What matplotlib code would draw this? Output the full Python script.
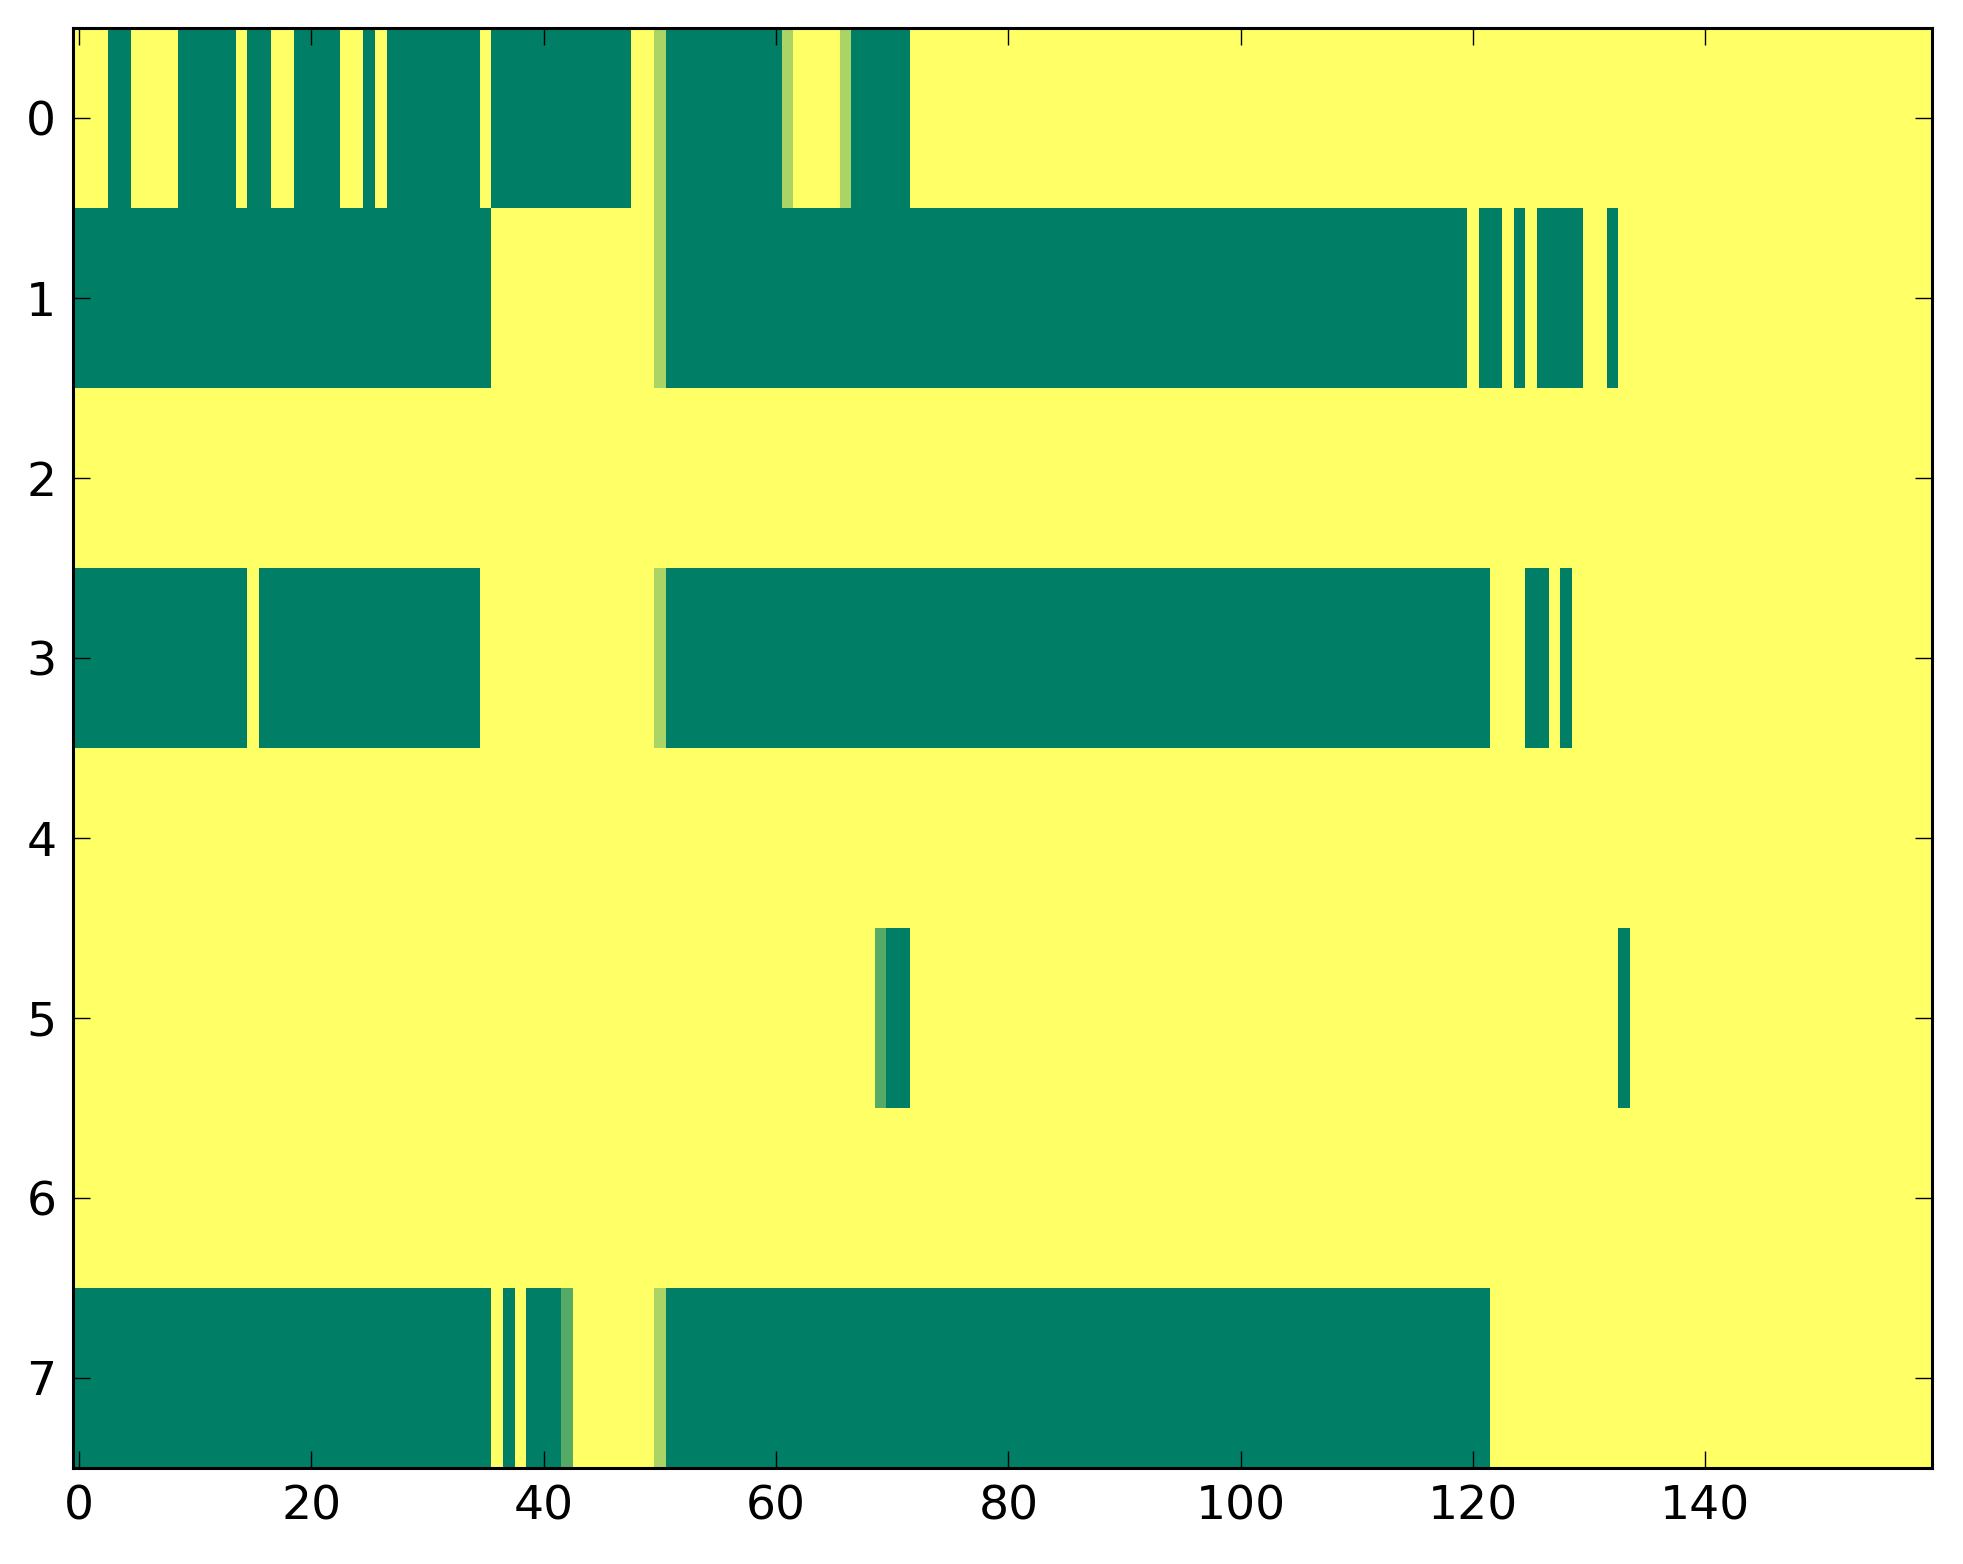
import numpy as np
import matplotlib
matplotlib.use("Agg")
import matplotlib.pyplot as plt

# Run-length encoded rows: (value, count). 0 = low, 1 = high, 1/3 and 2/3 intermediate
row0 = [(1, 3), (0, 2), (1, 4), (0, 5), (1, 1), (0, 2), (1, 2), (0, 4), (1, 2), (0, 1),
        (1, 1), (0, 8), (1, 1), (0, 12), (1, 2), (2/3, 1), (0, 10), (2/3, 1), (1, 4),
        (2/3, 1), (0, 5), (1, 88)]
row1 = [(0, 36), (1, 14), (2/3, 1), (0, 69), (1, 1), (0, 2), (1, 1), (0, 1), (1, 1),
        (0, 4), (1, 2), (0, 1), (1, 27)]
row2 = [(1, 160)]
row3 = [(0, 15), (1, 1), (0, 19), (1, 15), (2/3, 1), (0, 71), (1, 3), (0, 2), (1, 1),
        (0, 1), (1, 31)]
row4 = [(1, 160)]
row5 = [(1, 69), (1/3, 1), (0, 2), (1, 61), (0, 1), (1, 26)]
row6 = [(1, 160)]
row7 = [(0, 36), (1, 1), (0, 1), (1, 1), (0, 3), (1/3, 1), (1, 7), (2/3, 1), (0, 71), (1, 38)]

rows = [row0, row1, row2, row3, row4, row5, row6, row7]


def expand(runs):
    out = []
    for v, n in runs:
        out.extend([v] * n)
    return out


data = np.array([expand(r) for r in rows], dtype=float)

fig = plt.figure(figsize=(19.63, 15.64), dpi=100)
ax = fig.add_axes([0.0372, 0.0614, 0.9470, 0.9206])
ax.imshow(data, cmap="summer", vmin=0, vmax=1, aspect="auto", interpolation="nearest")

ax.set_xlim(-0.5, data.shape[1] - 0.5)
ax.set_ylim(data.shape[0] - 0.5, -0.5)
ax.set_xticks(np.arange(0, 160, 20))
ax.set_yticks(np.arange(0, 8, 1))

for s in ax.spines.values():
    s.set_linewidth(2.2)
ax.tick_params(direction="in", length=12, width=1.0, labelsize=34,
               top=True, right=True)
ax.tick_params(axis="x", pad=12)
ax.tick_params(axis="y", pad=12)

fig.savefig("out.png", dpi=100)
